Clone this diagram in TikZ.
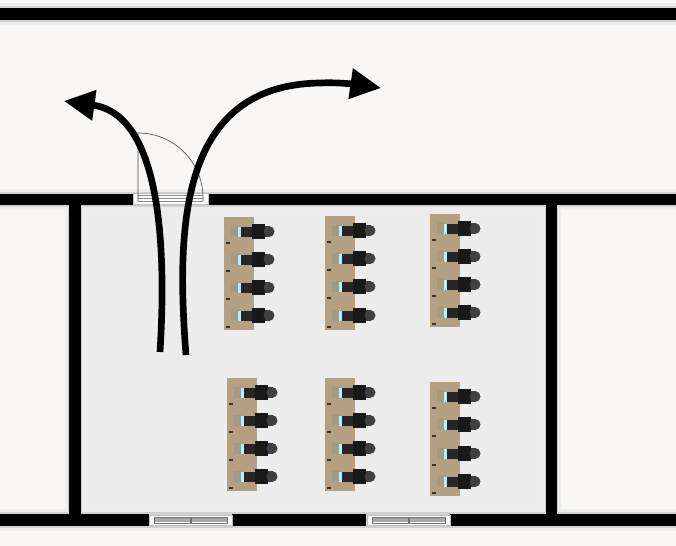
\documentclass[tikz,border=0pt]{standalone}
\usetikzlibrary {arrows.meta}

\definecolor{floorout}{HTML}{F8F7F5}
\definecolor{floorin}{HTML}{ECECEC}
\definecolor{wood}{HTML}{B5A182}
\definecolor{woodshade}{HTML}{A39A86}

\tikzset{
  wall/.style= {fill= black},
  glow/.style= {fill= black!7},
  glowdark/.style= {fill= black!18},
  pane/.style= {draw= black!25, fill= white, line width= .5pt},
  route/.style= {draw= black, line width= 5pt, -{Triangle[length= 23pt, width= 22pt]}},
  pics/seat/.style= {code= {
    \fill[wood] (-15,-13.6) rectangle (15,15.4);
    \fill[woodshade] (-8,-5) rectangle (0,6);
    \fill[black!85] (2,-4) rectangle (13,6);
    \fill[blue!20!cyan!30] (-1,-4) rectangle (2,6);
    \fill[black!90] (13,-7) rectangle (26,8);
    \fill[black!75] (26,-5) rectangle (31,6);
    \fill[black!75] (30,.5) circle (5.5);
    \fill[black!80] (-13,11) rectangle (-9,12.5);
  }}
}

\begin{document}
\begin{tikzpicture}[x= .75pt, y= -.75pt]
      \useasboundingbox (0,0) rectangle (676,546);
      \fill[floorout] (0,0) rectangle (676,546);
      \fill[floorin] (81,205) rectangle (546,514);
      % wall shadows
      \begin{scope}
        \path[glow] (0,3) rectangle (676,25);
        \path[glow] (0,189) rectangle (676,210);
        \path[glow] (0,509) rectangle (676,531);
        \path[glow] (65,205) rectangle (85,514);
        \path[glow] (542,205) rectangle (561,514);
        \path[glowdark] (0,6) rectangle (676,22);
        \path[glowdark] (0,192) rectangle (676,207);
        \path[glowdark] (0,512) rectangle (676,528);
        \path[glowdark] (68,205) rectangle (82,514);
        \path[glowdark] (545,205) rectangle (558,514);
      \end{scope}
      % walls
      \begin{scope}
        \path[wall] (0,8) rectangle (676,20);
        \path[wall] (0,194) rectangle (133,205);
        \path[wall] (208,194) rectangle (676,205);
        \path[wall] (0,514) rectangle (149,526);
        \path[wall] (232,514) rectangle (366,526);
        \path[wall] (450,514) rectangle (676,526);
        \path[wall] (69,205) rectangle (81,514);
        \path[wall] (546,205) rectangle (557,514);
      \end{scope}
      % door
      \path[pane] (133,193) rectangle (208,204);
      \draw[black!45, line width= .5pt] (138,195) -- (203,195) (138,198) -- (203,198) (138,201) -- (203,201);
      \draw[black!70, line width= .5pt] (138,201) -- (138,133) arc[start angle= -90, end angle= 0, radius= 65] -- (203,201);
      % windows
      \foreach \winx in {149,367} {
        \path[pane] (\winx,515) rectangle ++(83,10);
        \fill[black!35] (\winx+5,518) rectangle ++(73,4);
        \draw[black!55, line width= .4pt] (\winx+5,517) rectangle ++(36,6);
        \draw[black!55, line width= .4pt] (\winx+42,517) rectangle ++(36,6);
      }
      % desks
      \foreach \deskx/\seaty in {239/231,239/259,239/287,239/315,
                                340/230,340/258,340/286,340/315,
                                445/228,445/256,445/284,445/312,
                                242/392,242/420,242/448,242/476,
                                340/392,340/420,340/448,340/476,
                                445/396,445/424,445/453,445/481} {
        \pic at (\deskx,\seaty) {seat};
      }
      % routes
      \coordinate (leftstart) at (160,352);
      \coordinate (lefttip) at (64,101);
      \coordinate (rightstart) at (186,355);
      \coordinate (rightbend) at (320,83);
      \coordinate (righttip) at (381,88);
      \draw[route] (leftstart) .. controls (166,255) and (163,115) .. (lefttip);
      \draw[route] (rightstart) .. controls (176,225) and (180,85) .. (rightbend) .. controls (340,82) and (360,85) .. (righttip);
    \end{tikzpicture}
\end{document}
